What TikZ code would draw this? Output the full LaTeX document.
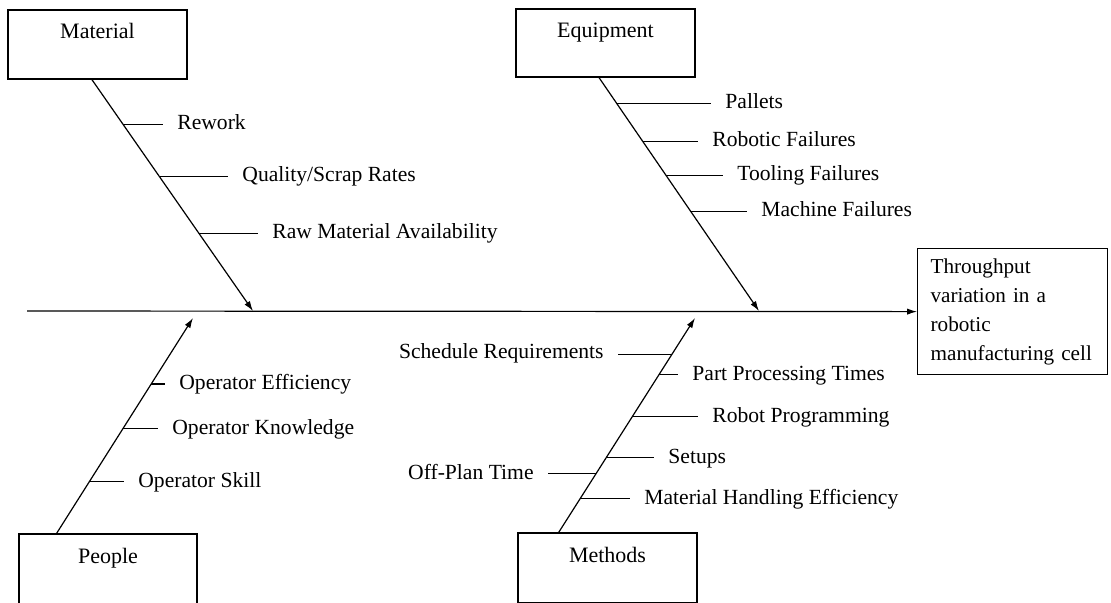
\documentclass[tikz,border=0pt]{standalone}
\usepackage{fontspec}
\setmainfont{Liberation Serif}
\usetikzlibrary{arrows.meta, calc}

\begin{document}
\begin{tikzpicture}[x=0.5pt, y=-0.5pt, every node/.style={font=\fontsize{10.8}{13}\selectfont}]

\tikzset{category/.style = {shape=rectangle, draw, line width=0.6pt, text height=7pt, text depth=13pt, font=\fontsize{11}{13}\selectfont}}
\tikzset{effectbox/.style = {shape=rectangle, draw, line width=0.6pt, align=left, text width=82pt, inner xsep=6.5pt, minimum height=63pt, font=\fontsize{10.6}{14.5}\selectfont}}
\tikzset{cause/.style = {inner xsep=7pt, inner ysep=0pt, text height=1.5ex, text depth=.25ex}}
\tikzset{bone/.style = {line width=0.6pt}}
\tikzset{spine/.style = {bone, ->, > = {Latex[length=5pt,width=3.2pt]}}}

\useasboundingbox (0,0) rectangle (1111,602);
\clip (0,0) rectangle (1111,602);

%boxes
\node[category, minimum width=89.5pt, minimum height=34.5pt] (material) at (97.5,44.5) {Material};
\node[category, minimum width=89.5pt, minimum height=34pt] (equipment) at (605.5,43) {Equipment};
\node[category, minimum width=89pt, minimum height=35pt] (people) at (108,569) {People};
\node[category, minimum width=89.5pt, minimum height=35pt] (methods) at (607.5,568) {Methods};
\node[effectbox, anchor=north west] (effect) at (917,248) {Throughput\\variation in a\\robotic\\manufacturing cell};

%spines
\coordinate (tail) at (27,311);
\coordinate (mattip) at (253,311);
\coordinate (eqtip) at (759,311);
\coordinate (peotip) at (193,318);
\coordinate (mettip) at (695,318);
\coordinate (matroot) at ($(material.south west)!.469!(material.south east)$);
\coordinate (eqroot) at ($(equipment.south west)!.464!(equipment.south east)$);
\coordinate (peoroot) at ($(people.north west)!.213!(people.north east)$);
\coordinate (metroot) at ($(methods.north west)!.229!(methods.north east)$);

\draw [spine] (tail) -- (effect.west);
\draw [spine] (matroot) -- (mattip);
\draw [spine] (eqroot) -- (eqtip);
\draw [spine] (peoroot) -- (peotip);
\draw [spine] (metroot) -- (mettip);

\path (matroot) -- (mattip) coordinate[pos=.194] (m1) coordinate[pos=.418] (m2) coordinate[pos=.664] (m3);
\path (eqroot) -- (eqtip) coordinate[pos=.111] (e1) coordinate[pos=.274] (e2) coordinate[pos=.419] (e3) coordinate[pos=.573] (e4);
\path (peoroot) -- (peotip) coordinate[pos=.694] (p1) coordinate[pos=.486] (p2) coordinate[pos=.241] (p3);
\path (metroot) -- (mettip) coordinate[pos=.828] (t1) coordinate[pos=.735] (t2) coordinate[pos=.54] (t3) coordinate[pos=.349] (t4) coordinate[pos=.274] (t5) coordinate[pos=.158] (t6);

%causes
\node[cause, anchor=west] (rework) at (163,124) {Rework};
\node[cause, anchor=west] (quality) at (228,176) {Quality/Scrap Rates};
\node[cause, anchor=west] (rawmat) at (258,233) {Raw Material Availability};

\node[cause, anchor=west] (pallets) at (711,103) {Pallets};
\node[cause, anchor=west] (robfail) at (698,141) {Robotic Failures};
\node[cause, anchor=west] (toolfail) at (723,175) {Tooling Failures};
\node[cause, anchor=west] (machfail) at (747,211) {Machine Failures};

\node[cause, anchor=west] (opeff) at (165,384) {Operator Efficiency};
\node[cause, anchor=west] (opknow) at (158,429) {Operator Knowledge};
\node[cause, anchor=west] (opskill) at (124,482) {Operator Skill};

\node[cause, anchor=east] (schedule) at (618,353) {Schedule Requirements};
\node[cause, anchor=west] (parttimes) at (678,375) {Part Processing Times};
\node[cause, anchor=west] (robprog) at (698,417) {Robot Programming};
\node[cause, anchor=west] (setups) at (654,458) {Setups};
\node[cause, anchor=east] (offplan) at (548,474) {Off-Plan Time};
\node[cause, anchor=west] (handling) at (630,499) {Material Handling Efficiency};

%ribs
\draw [bone] (m1) -- (m1 -| rework.west);
\draw [bone] (m2) -- (m2 -| quality.west);
\draw [bone] (m3) -- (m3 -| rawmat.west);
\draw [bone] (e1) -- (e1 -| pallets.west);
\draw [bone] (e2) -- (e2 -| robfail.west);
\draw [bone] (e3) -- (e3 -| toolfail.west);
\draw [bone] (e4) -- (e4 -| machfail.west);
\draw [bone] (p1) -- (p1 -| opeff.west);
\draw [bone] (p2) -- (p2 -| opknow.west);
\draw [bone] (p3) -- (p3 -| opskill.west);
\draw [bone] (t1) -- (t1 -| schedule.east);
\draw [bone] (t2) -- (t2 -| parttimes.west);
\draw [bone] (t3) -- (t3 -| robprog.west);
\draw [bone] (t4) -- (t4 -| setups.west);
\draw [bone] (t5) -- (t5 -| offplan.east);
\draw [bone] (t6) -- (t6 -| handling.west);

\end{tikzpicture}
\end{document}
